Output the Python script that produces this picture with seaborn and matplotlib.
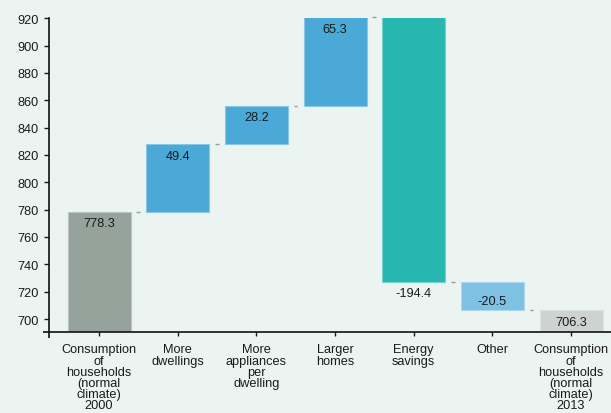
import numpy as np
import pandas as pd
import matplotlib
matplotlib.use("Agg")
import matplotlib.pyplot as plt
import seaborn as sns

# Household energy consumption bridge, 2000 -> 2013
categories = [
    "Consumption\nof\nhouseholds\n(normal\nclimate)\n2000",
    "More\ndwellings",
    "More\nappliances\nper\ndwelling",
    "Larger\nhomes",
    "Energy\nsavings",
    "Other",
    "Consumption\nof\nhouseholds\n(normal\nclimate)\n2013",
]
values = [778.3, 49.4, 28.2, 65.3, -194.4, -20.5, 706.3]
kinds = ["total", "step", "step", "step", "step", "step", "total"]
colors = ["#96A39D", "#4BA9D7", "#4BA9D7", "#4BA9D7", "#27B7B1", "#7FC1E2", "#CFD3D0"]
yticks = [700, 720, 740, 760, 780, 800, 820, 840, 860, 880, 900, 920]

bg = "#ECF4F2"
sns.set_theme(style="white")
plt.rcParams["font.family"] = ["Liberation Sans", "DejaVu Sans"]

# running totals -> bar bottoms / heights
bottoms, heights, ends = [], [], []
running = 0.0
for v, k in zip(values, kinds):
    if k == "total":
        bottoms.append(0.0)
        heights.append(v)
        running = v
    else:
        lo = min(running, running + v)
        bottoms.append(lo)
        heights.append(abs(v))
        running = running + v
    ends.append(running)

df = pd.DataFrame({"category": categories, "height": heights})

fig = plt.figure(figsize=(6.11, 4.14), dpi=100, facecolor=bg)
ax = fig.add_axes([0.0802, 0.195, 0.9198, 0.7584])
ax.set_facecolor(bg)

sns.barplot(data=df, x="category", y="height", order=categories,
            bottom=np.array(bottoms), width=0.8, ax=ax, errorbar=None,
            color=colors[1], saturation=1)

def lighten(c, f=0.35):
    r, g, b = matplotlib.colors.to_rgb(c)
    return (r + (1 - r) * f, g + (1 - g) * f, b + (1 - b) * f)

for patch, c in zip(ax.patches, colors):
    patch.set_facecolor(c)
    patch.set_edgecolor(lighten(c))
    patch.set_linewidth(0.8)

# small connectors between consecutive bars
for i in range(len(values) - 1):
    ax.plot([i + 0.475, i + 0.52], [ends[i], ends[i]], color="#9a9a9a", lw=1.0,
            solid_capstyle="butt", clip_on=False)

# value labels
for i, (v, k) in enumerate(zip(values, kinds)):
    top = bottoms[i] + heights[i]
    bot = bottoms[i]
    if v >= 0:
        y, dy = min(top, 920), -8
    elif heights[i] > 100:
        y, dy = bot, -7.5
    else:
        y, dy = bot, 6.5
    ax.annotate(f"{v:.1f}", xy=(i, y), xytext=(0, dy), textcoords="offset points",
                ha="center", va="center", fontsize=9.2, color="#1a1a1a")

ax.set_xlim(-0.636, 6.508)
ax.set_ylim(690.3, 920)
ax.set_yticks(yticks)
ax.set_xlabel("")
ax.set_ylabel("")
ax.set_xticks(range(len(categories)))
ax.set_xticklabels(categories, fontsize=9.2, linespacing=0.91, color="#1a1a1a")
ax.tick_params(axis="y", labelsize=9.2, length=3.6, width=1.0, pad=3.6,
               direction="out", left=True, colors="#1a1a1a")
ax.tick_params(axis="x", length=3, width=1.0, pad=5, direction="out", bottom=True,
               colors="#1a1a1a")
for s in ["top", "right"]:
    ax.spines[s].set_visible(False)
for s in ["left", "bottom"]:
    ax.spines[s].set_color("#111111")
    ax.spines[s].set_linewidth(1.2)

# axis lines cross slightly at the corner
ax.plot([-0.011, 0], [0, 0], transform=ax.transAxes, color="#111111", lw=1.2,
        clip_on=False, solid_capstyle="butt")
ax.plot([0, 0], [-0.017, 0], transform=ax.transAxes, color="#111111", lw=1.2,
        clip_on=False, solid_capstyle="butt")

fig.savefig("out.png", dpi=100, facecolor=bg)
